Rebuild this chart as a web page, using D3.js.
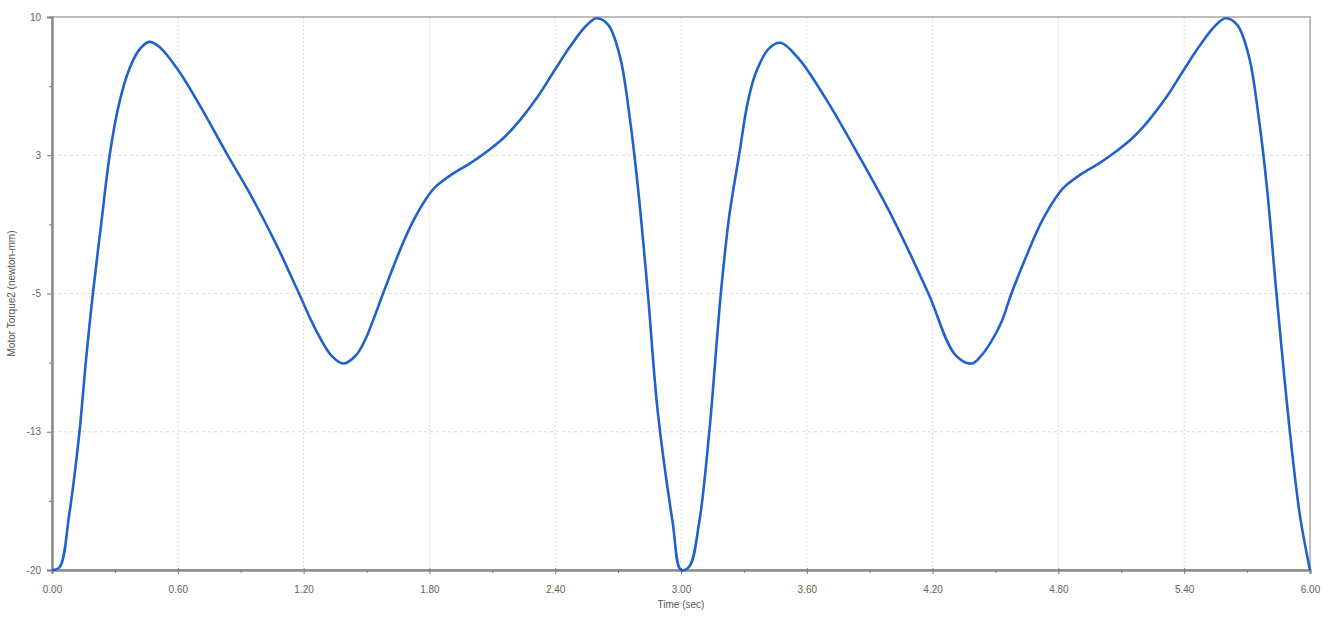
<!DOCTYPE html>
<html>
<head>
<meta charset="utf-8">
<script src="https://cdn.jsdelivr.net/npm/d3@7"></script>
<style>
  body { margin: 0; background: #fff; }
  text { font-family: "Liberation Sans", Arial, sans-serif; }
</style>
</head>
<body>
<div id="chart"></div>
<script>
// Motor Torque2 vs time

const time = [0, 0.036, 0.082, 0.131, 0.163, 0.195, 0.235, 0.275, 0.32, 0.368, 0.415, 0.462, 0.51,
  0.6, 0.7, 0.843, 0.94, 1.066, 1.17, 1.255, 1.335, 1.39, 1.45, 1.49, 1.53, 1.579, 1.658, 1.721, 1.8,
  1.835, 1.914, 1.994, 2.073, 2.152, 2.232, 2.312, 2.391, 2.471, 2.55, 2.598, 2.653, 2.709, 2.757,
  2.796, 2.842, 2.889, 2.96, 3.0,
  3.04, 3.087, 3.135, 3.19, 3.23, 3.277, 3.317, 3.356, 3.42, 3.475, 3.562, 3.689, 3.847, 4.005,
  4.18, 4.306, 4.385, 4.43, 4.48, 4.53, 4.576, 4.656, 4.72, 4.8,
  4.835, 4.914, 4.994, 5.073, 5.152, 5.232, 5.312, 5.391, 5.471, 5.55, 5.598, 5.653, 5.709, 5.757,
  5.796, 5.84, 5.904, 5.952, 6.0];

const torque = [-20, -19.85, -17.0, -12.5, -8.5, -5, -1.2, 2.5, 5.3, 7.15, 8.2, 8.65, 8.4,
  7.15, 5.3, 2.4, 0.5, -2.25, -4.8, -6.9, -8.4, -8.8, -8.35, -7.6, -6.5, -5, -2.7, -1.1, 0.4,
  0.85, 1.52, 2.06, 2.69, 3.42, 4.41, 5.6, 7.0, 8.4, 9.55, 9.93, 9.57, 7.85, 4.41,
  0.6, -5, -11.4, -17.4, -20,
  -19.8, -17.4, -12.5, -5, -0.8, 2.5, 5.3, 6.95, 8.3, 8.6, 7.73, 5.6, 2.5, -0.8,
  -5, -8.3, -8.8, -8.4, -7.6, -6.5, -5, -2.73, -1.1, 0.4,
  0.85, 1.52, 2.06, 2.69, 3.42, 4.41, 5.6, 7.0, 8.4, 9.55, 9.93, 9.57, 7.85, 4.41,
  0.6, -5, -12.5, -17.05, -20];

const xTicks = [0, 0.6, 1.2, 1.8, 2.4, 3.0, 3.6, 4.2, 4.8, 5.4, 6.0];
const yTicks = [10, 2.5, -5, -12.5, -20];

var width = 1329;
var height = 617;
var margin = {top: 17, right: 19, bottom: 47, left: 52};
var iw = width - margin.left - margin.right;
var ih = height - margin.top - margin.bottom;

var data = time.map(function(t, i) { return {t: t, v: torque[i]}; });

var svg = d3.select("#chart").append("svg")
    .attr("width", width)
    .attr("height", height);

var g = svg.append("g")
    .attr("transform", "translate(" + margin.left + "," + margin.top + ")");

var x = d3.scaleLinear().domain([0, 6]).range([0, iw]);
var y = d3.scaleLinear().domain([-20, 10]).range([ih, 0]);

// minor ticks halfway between majors
var xMinor = d3.pairs(xTicks).map(function(p) { return (p[0] + p[1]) / 2; });
var yMinor = d3.pairs(yTicks).map(function(p) { return (p[0] + p[1]) / 2; });

// grid
g.append("g").selectAll("line")
  .data(xTicks.slice(1, -1)).enter().append("line")
    .attr("x1", function(d) { return x(d); })
    .attr("x2", function(d) { return x(d); })
    .attr("y1", 0).attr("y2", ih)
    .attr("stroke", "#dcdcdc")
    .attr("stroke-dasharray", "2,2");

g.append("g").selectAll("line")
  .data(yTicks.slice(1, -1)).enter().append("line")
    .attr("y1", function(d) { return y(d); })
    .attr("y2", function(d) { return y(d); })
    .attr("x1", 0).attr("x2", iw)
    .attr("stroke", "#dcdcdc")
    .attr("stroke-dasharray", "3,3");

// frame
g.append("rect")
  .attr("width", iw)
  .attr("height", ih)
  .attr("fill", "none")
  .attr("stroke", "#a8a8a8")
  .attr("stroke-width", 1.5);

// axes
var xAxis = g.append("g")
  .attr("transform", "translate(0," + ih + ")")
  .call(d3.axisBottom(x).tickValues(xTicks).tickSize(4).tickPadding(12)
        .tickFormat(function(d) { return d.toFixed(2); }));

var yAxis = g.append("g")
  .call(d3.axisLeft(y).tickValues(yTicks).tickSize(5).tickPadding(6)
        .tickFormat(function(d) { return d.toFixed(0); }));

g.append("g")
  .attr("transform", "translate(0," + ih + ")")
  .call(d3.axisBottom(x).tickValues(xMinor).tickSize(3).tickFormat(""));
g.append("g")
  .call(d3.axisLeft(y).tickValues(yMinor).tickSize(3).tickFormat(""));

g.selectAll(".domain")
  .attr("stroke", "#8c8c8c")
  .attr("stroke-width", 2);
g.selectAll(".tick line")
  .attr("stroke", "#777");
g.selectAll(".tick text")
  .attr("fill", "#6b6050")
  .attr("font-size", "10px");
xAxis.selectAll(".tick line").attr("y1", -2);

// titles
svg.append("text")
  .attr("x", margin.left + iw / 2)
  .attr("y", 608)
  .attr("text-anchor", "middle")
  .attr("font-size", "10px")
  .attr("fill", "#555")
  .text("Time (sec)");

svg.append("text")
  .attr("transform", "translate(15," + (margin.top + ih / 2) + ") rotate(-90)")
  .attr("text-anchor", "middle")
  .attr("font-size", "10px")
  .attr("fill", "#555")
  .text("Motor Torque2 (newton-mm)");

// the curve
var line = d3.line()
  .x(function(d) { return x(d.t); })
  .y(function(d) { return y(d.v); })
  .curve(d3.curveCatmullRom.alpha(0.5));

g.append("path")
  .datum(data)
  .attr("fill", "none")
  .attr("stroke", "#1f62cc")
  .attr("stroke-width", 2.6)
  .attr("stroke-linejoin", "round")
  .attr("d", line);
</script>
</body>
</html>
